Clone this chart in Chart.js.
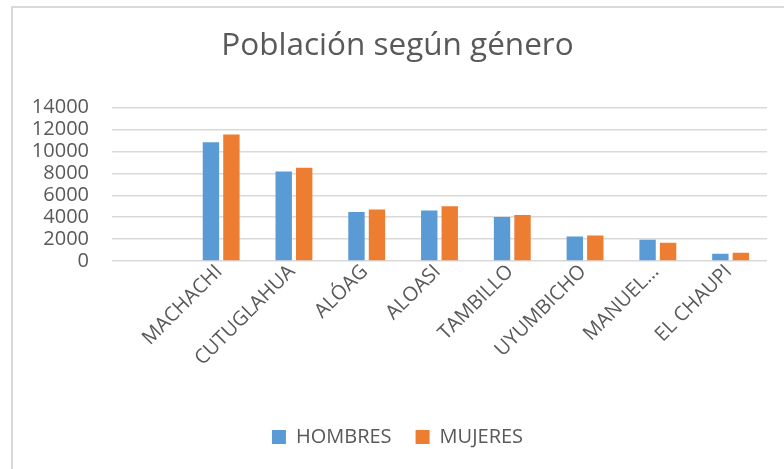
<html>
  <head>
    <title>Población según género</title>
    <style>
      body {
        margin: 0;
        background: #ffffff;
      }
      .frame {
        position: absolute;
        left: 11px;
        top: 6px;
        width: 800px;
        height: 500px;
        border: 2px solid #d9d9d9;
      }
      .chart {
        position: absolute;
        left: 0;
        top: 0;
        width: 784px;
        height: 469px;
      }
    </style>
  </head>
  <body>
    <div class="frame"></div>
    <div class="chart"><canvas id="chart-poblacion"></canvas></div>

    <script src="https://cdn.jsdelivr.net/npm/chart.js@4"></script>
    <script type="text/javascript">
      // first slot is empty in the original sheet
      const categories = ['', 'MACHACHI', 'CUTUGLAHUA', 'ALÓAG', 'ALOASI', 'TAMBILLO', 'UYUMBICHO', 'MANUEL…', 'EL CHAUPI'];
      const hombres = [null, 10850, 8180, 4470, 4620, 4010, 2230, 1930, 660];
      const mujeres = [null, 11560, 8510, 4710, 5010, 4190, 2320, 1660, 750];
      const yTicks = [0, 2000, 4000, 6000, 8000, 10000, 12000, 14000];

      const textColor = '#595959';
      const font = 'Open Sans';

      new Chart(document.getElementById('chart-poblacion'), {
        type: 'bar',
        data: {
          labels: categories,
          datasets: [
            {
              label: 'HOMBRES',
              data: hombres,
              backgroundColor: '#5b9bd5',
              categoryPercentage: 0.563,
              barPercentage: 0.8,
            },
            {
              label: 'MUJERES',
              data: mujeres,
              backgroundColor: '#ed7d31',
              categoryPercentage: 0.563,
              barPercentage: 0.8,
            },
          ],
        },
        options: {
          responsive: true,
          maintainAspectRatio: false,
          animation: false,
          layout: {
            padding: { left: 28, right: 17, top: 0, bottom: 12 },
          },
          plugins: {
            title: {
              display: true,
              text: 'Población según género',
              color: textColor,
              font: { family: font, size: 31.5, weight: 'normal' },
              padding: { top: 27.6, bottom: 42.3 },
            },
            legend: {
              position: 'bottom',
              labels: {
                color: textColor,
                font: { family: font, size: 20 },
                boxWidth: 14,
                boxHeight: 14,
                padding: 24,
              },
            },
            tooltip: { enabled: false },
          },
          scales: {
            x: {
              grid: { display: false },
              border: { display: false },
              ticks: {
                color: textColor,
                font: { family: font, size: 20 },
                minRotation: 45,
                maxRotation: 45,
                autoSkip: false,
                padding: -9,
                labelOffset: -2,
              },
              afterFit: (scale) => {
                scale.height = 142;
              },
            },
            y: {
              min: 0,
              max: 14000,
              afterBuildTicks: (scale) => {
                scale.ticks = yTicks.map((value) => ({ value }));
              },
              grid: {
                color: '#d9d9d9',
                lineWidth: 1.5,
                drawTicks: false,
              },
              border: { display: false },
              ticks: {
                color: textColor,
                font: { family: font, size: 20 },
                padding: 23,
                autoSkip: false,
                callback: (value) => String(value),
              },
              afterFit: (scale) => {
                scale.width = 84;
              },
            },
          },
        },
      });
    </script>
  </body>
</html>
